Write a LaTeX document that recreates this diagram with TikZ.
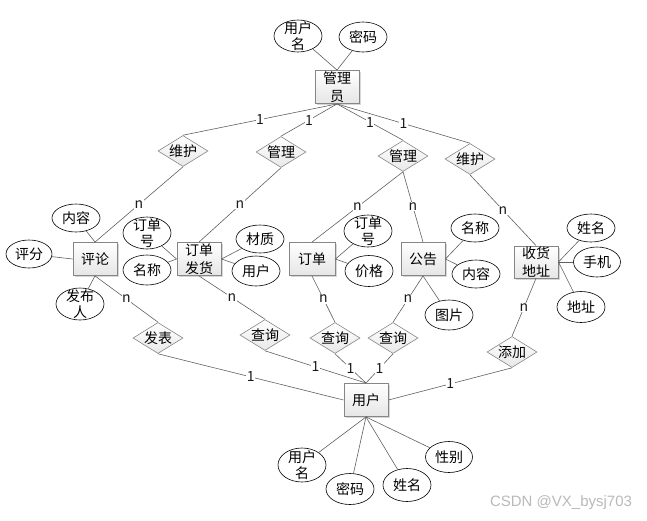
\documentclass[tikz,border=0pt]{standalone}
\usepackage{fontspec}
\setmainfont{Noto Sans CJK SC}
\newfontfamily\wmfont{Liberation Sans}
\usetikzlibrary{shapes.geometric,shadows}
\newcommand\entfont{\fontsize{14}{18}\selectfont}
\newcommand\ellfont{\fontsize{14}{15.5}\selectfont}
\newcommand\lblfont{\fontsize{14}{16}\selectfont}
\tikzset{
  ent/.style={rectangle,draw=gray!95,line width=0.9pt,top color=white,bottom color=gray!20,
    minimum width=44pt,minimum height=33pt,inner sep=0pt,align=center,font=\entfont,
    drop shadow={shadow xshift=1.5pt,shadow yshift=-1.5pt,fill=gray!70,opacity=.45}},
  rel/.style={diamond,draw=gray!95,line width=0.6pt,top color=white,bottom color=gray!18,
    aspect=1.6,inner sep=0pt,minimum width=50pt,minimum height=31pt,font=\entfont},
  attr/.style={ellipse,draw,line width=0.6pt,fill=white,minimum width=48pt,minimum height=30pt,
    inner sep=0pt,font=\entfont},
  lbl/.style={fill=white,inner sep=0.6pt,font=\lblfont,text=black!90},
  link/.style={draw=gray!75!black,line width=0.6pt}
}
\begin{document}
\begin{tikzpicture}[x=1pt,y=-1pt]
\useasboundingbox (0,0) rectangle (647,520);
\node[ent] (admin) at (337,87) {管理\\员};
\node[attr,minimum height=32pt,label={[align=center,font=\ellfont]center:用户\\名}] (un1) at (298,36) {};
\node[attr] (pw1) at (363,37) {密码};
\node[rel] (wh1) at (183,151) {维护};
\node[rel] (gl1) at (281,152) {管理};
\node[rel] (gl2) at (403,156) {管理};
\node[rel] (wh2) at (470,159) {维护};
\node[ent] (pl) at (95,259) {评论};
\node[attr,minimum height=28pt] (nr1) at (76,218) {内容};
\node[attr,minimum height=28pt,minimum width=46pt] (pf) at (29,254) {评分};
\node[attr,minimum height=32pt,label={[align=center,font=\ellfont]center:发布\\人}] (fbr) at (80,304) {};
\node[ent] (dd) at (199,259) {订单\\发货};
\node[attr,minimum height=32pt,label={[align=center,font=\ellfont]center:订单\\号}] (ddh1) at (147,233) {};
\node[attr] (mc1) at (147,270) {名称};
\node[attr,minimum height=28pt] (cz) at (260,239) {材质};
\node[attr] (yh) at (256,271) {用户};
\node[ent,minimum width=46pt] (order) at (312,259) {订单};
\node[attr,minimum height=32pt,label={[align=center,font=\ellfont]center:订单\\号}] (ddh2) at (368,231) {};
\node[attr,minimum height=31pt] (jg) at (369,271) {价格};
\node[ent] (gg) at (423,259) {公告};
\node[attr,minimum height=28pt] (mc2) at (475,228) {名称};
\node[attr,minimum height=28pt] (nr2) at (476,274) {内容};
\node[attr] (tp) at (449,315) {图片};
\node[ent,minimum height=32pt] (addr) at (536,262) {收货\\地址};
\node[attr,minimum height=28pt] (xm1) at (591,228) {姓名};
\node[attr,minimum width=47pt] (sj) at (597,262) {手机};
\node[attr,minimum height=31pt] (dz) at (581,307) {地址};
\node[rel] (fb) at (158,338) {发表};
\node[rel] (cx1) at (265,335) {查询};
\node[rel] (cx2) at (335,338) {查询};
\node[rel] (cx3) at (393,338) {查询};
\node[rel] (tj) at (512,352) {添加};
\node[ent] (user) at (366,400) {用户};
\node[attr,minimum height=34pt,label={[align=center,font=\ellfont]center:用户\\名}] (un2) at (302,465) {};
\node[attr,minimum height=31pt] (pw2) at (350,489) {密码};
\node[attr,minimum height=33pt] (xm2) at (407,485) {姓名};
\node[attr,minimum width=47pt,minimum height=31pt] (xb) at (449,457) {性别};
\node[font=\wmfont\fontsize{15}{17}\selectfont,text=gray!55] (wm) at (561,503) {CSDN @VX\_bysj703};
\draw[link] (un1) -- (admin.north);
\draw[link] (pw1) -- (admin.north);
\draw[link] (admin.south) -- node[lbl] {1} (wh1.north);
\draw[link] (admin.south) -- node[lbl] {1} (gl1.north);
\draw[link] (admin.south) -- node[lbl] {1} (gl2.north);
\draw[link] (admin.south) -- node[lbl] {1} (wh2.north);
\draw[link] (wh1.south) -- node[lbl] {n} (pl.north);
\draw[link] (gl1.south) -- node[lbl] {n} (dd.north);
\draw[link] (gl2.south) -- node[lbl] {n} (order.north);
\draw[link] (gl2.south) -- node[lbl] {n} (gg.north);
\draw[link] (wh2.south) -- node[lbl] {n} (addr.north);
\draw[link] (nr1) -- (pl.north);
\draw[link] (pf) -- (pl.west);
\draw[link] (fbr) -- (pl.south);
\draw[link] (ddh1) -- (dd.west);
\draw[link] (mc1) -- (dd.west);
\draw[link] (cz) -- (dd.east);
\draw[link] (yh) -- (dd.east);
\draw[link] (ddh2) -- (order.east);
\draw[link] (jg) -- (order.east);
\draw[link] (mc2) -- (gg.east);
\draw[link] (nr2) -- (gg.east);
\draw[link] (tp) -- (gg.south);
\draw[link] (xm1) -- (addr.east);
\draw[link] (sj) -- (addr.east);
\draw[link] (dz) -- (addr.east);
\draw[link] (pl.south) -- node[lbl] {n} (fb.north);
\draw[link] (dd.south) -- node[lbl] {n} (cx1.north);
\draw[link] (order.south) -- node[lbl] {n} (cx2.north);
\draw[link] (gg.south) -- node[lbl] {n} (cx3.north);
\draw[link] (addr.south) -- node[lbl] {n} (tj.north);
\draw[link] (fb.south) -- node[lbl] {1} (user.west);
\draw[link] (cx1.south) -- node[lbl] {1} (user.north);
\draw[link] (cx2.south) -- node[lbl] {1} (user.north);
\draw[link] (cx3.south) -- node[lbl] {1} (user.north);
\draw[link] (tj.south) -- node[lbl] {1} (user.east);
\draw[link] (un2) -- (user.south);
\draw[link] (pw2) -- (user.south);
\draw[link] (xm2) -- (user.south);
\draw[link] (xb) -- (user.south);
\end{tikzpicture}
\end{document}
